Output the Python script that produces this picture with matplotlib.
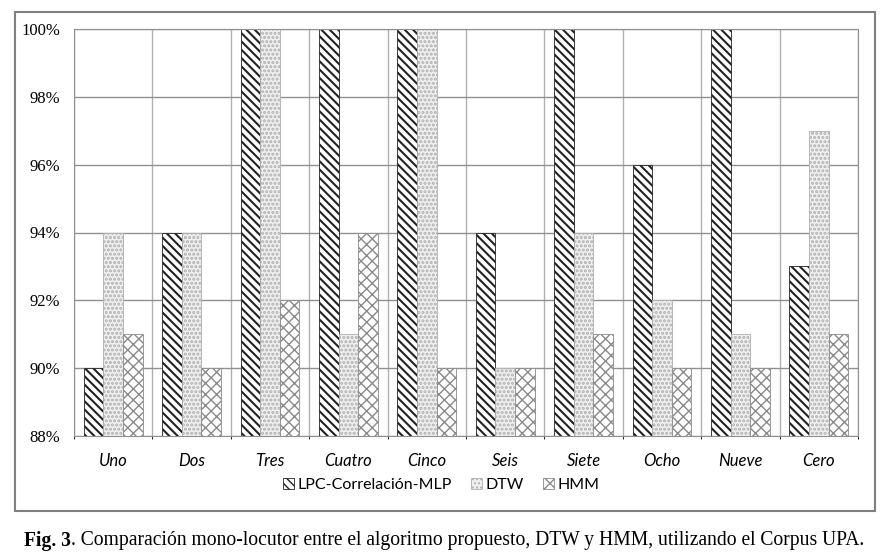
import numpy as np
import matplotlib
matplotlib.use("Agg")
import matplotlib.pyplot as plt
from matplotlib.patches import Rectangle

categorias = ['Uno', 'Dos', 'Tres', 'Cuatro', 'Cinco', 'Seis', 'Siete', 'Ocho', 'Nueve', 'Cero']
lpc = [90, 94, 100, 100, 100, 94, 100, 96, 100, 93]
dtw = [94, 94, 100, 91, 100, 90, 94, 92, 91, 97]
hmm = [91, 90, 92, 94, 90, 90, 91, 90, 90, 91]
series = ['LPC-Correlación-MLP', 'DTW', 'HMM']

plt.rcParams['hatch.linewidth'] = 1.5

fig = plt.figure(figsize=(8.94, 5.56), dpi=100)
ax = fig.add_axes([74 / 894, 1 - 436 / 556, (858 - 74) / 894, (436 - 29) / 556])

# marco exterior
fig.patches.append(Rectangle((15 / 894, 1 - 511 / 556), 860 / 894, 499 / 556,
                             transform=fig.transFigure, fill=False,
                             edgecolor='#808080', linewidth=1.5))

x = np.arange(len(categorias))
w = 0.25
base = 88
ax.bar(x - w, np.array(lpc) - base, w, bottom=base, facecolor='white',
       edgecolor='#222222', hatch='\\\\\\\\', linewidth=0.6, label=series[0])
ax.bar(x, np.array(dtw) - base, w, bottom=base, facecolor='#f0f0f0',
       edgecolor='#b0b0b0', hatch='....', linewidth=0.6, label=series[1])
plt.rcParams['hatch.linewidth'] = 1.0
ax.bar(x + w, np.array(hmm) - base, w, bottom=base, facecolor='white',
       edgecolor='#8a8a8a', hatch='xxx', linewidth=0.6, label=series[2])

ax.set_ylim(88, 100)
ax.set_xlim(-0.5, len(categorias) - 0.5)
ax.set_yticks(range(88, 101, 2))
ax.set_yticklabels([f'{v}%' for v in range(88, 101, 2)],
                   family='Liberation Serif', fontsize=12)
ax.set_xticks(x)
ax.set_xticklabels(categorias, family='Lato', style='italic', fontsize=12)
ax.set_xticks(np.arange(-0.5, len(categorias), 1), minor=True)
ax.tick_params(axis='both', length=0, pad=10)
ax.tick_params(axis='x', pad=12)
ax.grid(axis='y', color='#909090', linewidth=1)
ax.grid(axis='x', which='minor', color='#b0b0b0', linewidth=1)
ax.set_axisbelow(True)
for s in ax.spines.values():
    s.set_color('#909090')

fig.legend(loc='center', bbox_to_anchor=(441 / 894, 1 - 485 / 556), ncol=3,
           frameon=False, prop={'family': 'Lato', 'size': 11.5},
           handlelength=0.7, handleheight=0.7, columnspacing=1.2, handletextpad=0.2)

# pie de figura
t1 = fig.text(24 / 894, 1 - 541 / 556, 'Fig. 3', family='Liberation Serif',
              weight='bold', fontsize=14.1, ha='left', va='center')
fig.canvas.draw()
bb = t1.get_window_extent()
fig.text(bb.x1 / fig.bbox.width, 1 - 541 / 556,
         '. Comparación mono-locutor entre el algoritmo propuesto, DTW y HMM, utilizando el Corpus UPA.',
         family='Liberation Serif', fontsize=14.1, ha='left', va='center')

fig.savefig('out.png', dpi=100)
